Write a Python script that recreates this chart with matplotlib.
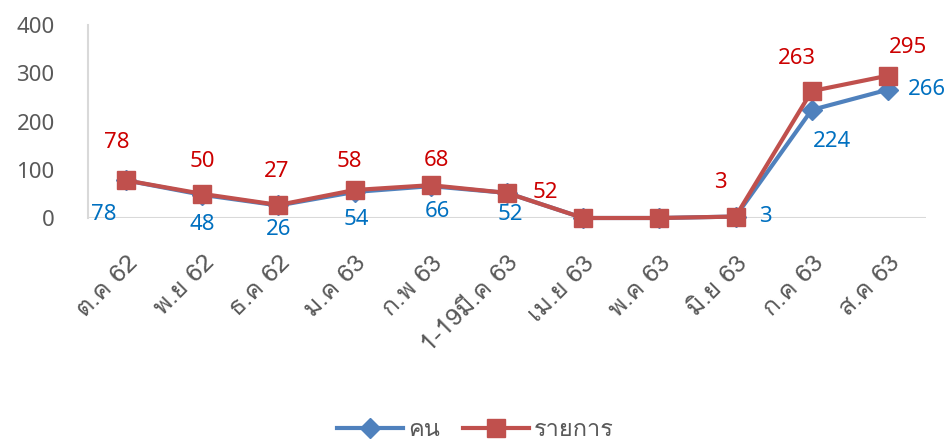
import matplotlib
matplotlib.use('Agg')
import matplotlib.pyplot as plt
from matplotlib import font_manager
from matplotlib.ft2font import FT2Font

# find some installed font that has Thai glyphs
thai_font = None
for f in font_manager.fontManager.ttflist:
    try:
        cmap = FT2Font(f.fname).get_charmap()
    except Exception:
        continue
    if 0x0E04 in cmap and 0x0E19 in cmap and 0x0E32 in cmap:
        thai_font = f.name
        break
thai_fam = ([thai_font] if thai_font else []) + ['Noto Sans', 'DejaVu Sans']
num_fam = ['Noto Sans', 'DejaVu Sans']

# data
months = ['ต.ค 62', 'พ.ย 62', 'ธ.ค 62', 'ม.ค 63', 'ก.พ 63', '1-19มี.ค 63',
          'เม.ย 63', 'พ.ค 63', 'มิ.ย 63', 'ก.ค 63', 'ส.ค 63']
people = [78, 48, 26, 54, 66, 52, 0, 0, 3, 224, 266]
items = [78, 50, 27, 58, 68, 52, 0, 0, 3, 263, 295]
show_label = [True, True, True, True, True, True, False, False, True, True, True]

# label offsets in pixels (dx, dy)
people_off = [(-22, -34), (0, -30), (0, -24), (2, -28), (7, -25), (3, -22),
              (0, 0), (0, 0), (30, 0), (20, -32), (39, 0)]
items_off = [(-9, 38), (0, 32), (-2, 33), (-5, 29), (6, 25), (38, 0),
             (0, 0), (0, 0), (-15, 34), (-15, 33), (20, 28)]

blue = '#4F81BD'
red = '#C0504D'
blue_txt = '#0070C0'
red_txt = '#CC0000'
gray = '#595959'

fig = plt.figure(figsize=(9.51, 4.41), dpi=100)
ax = fig.add_axes([88 / 951, 1 - 218 / 441, (926 - 88) / 951, (218 - 25) / 441])

x = list(range(len(months)))
ax.plot(x, people, color=blue, lw=3, marker='D', ms=10, label='คน', zorder=3, clip_on=False)
ax.plot(x, items, color=red, lw=3, marker='s', ms=13, label='รายการ', zorder=4, clip_on=False)

for i in x:
    if not show_label[i]:
        continue
    ax.annotate(str(people[i]), (i, people[i]), xytext=people_off[i], textcoords='offset pixels',
                ha='center', va='center', color=blue_txt, fontsize=16, family=num_fam)
    ax.annotate(str(items[i]), (i, items[i]), xytext=items_off[i], textcoords='offset pixels',
                ha='center', va='center', color=red_txt, fontsize=16, family=num_fam)

ax.set_xlim(-0.5, len(months) - 0.5)
ax.set_ylim(0, 400)
ax.set_yticks([0, 100, 200, 300, 400])
ax.tick_params(axis='y', length=0, pad=24, labelsize=16, labelcolor=gray)
for lab in ax.get_yticklabels():
    lab.set_family(num_fam)
ax.set_xticks(x)
ax.set_xticklabels(months, rotation=45, ha='right', va='top', rotation_mode='anchor',
                   fontsize=18, color=gray, family=thai_fam)
ax.tick_params(axis='x', length=0, pad=24)

for s in ['top', 'right', 'bottom']:
    ax.spines[s].set_visible(False)
ax.spines['left'].set_color('#D9D9D9')
ax.spines['left'].set_linewidth(1.5)
ax.axhline(0, color='#D9D9D9', lw=1.5, zorder=1)

leg = fig.legend(loc='center', bbox_to_anchor=(0.5, 1 - 430 / 441), ncol=2, frameon=False,
                 prop={'family': thai_fam, 'size': 17}, handlelength=2.8, columnspacing=1.0,
                 handletextpad=0.2)
for t in leg.get_texts():
    t.set_color(gray)

fig.savefig('out.png', dpi=100)
